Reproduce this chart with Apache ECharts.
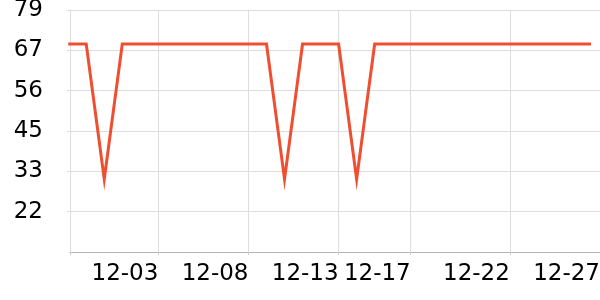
<!DOCTYPE html>
<html><head><meta charset="utf-8">
<script src="https://cdn.jsdelivr.net/npm/echarts@6/dist/echarts.min.js"></script>
<style>html,body{margin:0;padding:0;background:#fff}#c{width:600px;height:300px}</style>
</head><body><div id="c"></div>
<script>
const dates = ['11-28','11-29','11-30','12-01','12-02','12-03','12-04','12-05','12-06','12-07',
  '12-08','12-09','12-10','12-11','12-12','12-13','12-14','12-15','12-16','12-17',
  '12-18','12-19','12-20','12-21','12-22','12-23','12-24','12-25','12-26','12-27'];
const values = [69.5,69.5,31.5,69.5,69.5,69.5,69.5,69.5,69.5,69.5,
  69.5,69.5,31.5,69.5,69.5,69.5,31.5,69.5,69.5,69.5,
  69.5,69.5,69.5,69.5,69.5,69.5,69.5,69.5,69.5,69.5];
const xTickValues = [0.1, 5, 10, 15, 19, 24.5];
const xLabelValues = [5, 10, 15, 19, 24.5, 29.5];
const xLabels = ['12-03','12-08','12-13','12-17','12-22','12-27'];
const yMin = 11, yMax = 79.1;

const chart = echarts.init(document.getElementById('c'), null, {renderer: 'canvas'});
chart.setOption({
  animation: false,
  grid: {left: 70, right: 0, top: 10, bottom: 48, containLabel: false, outerBoundsMode: 'none'},
  xAxis: {
    type: 'value', min: 0.1, max: 29.5,
    axisLine: {show: true, lineStyle: {color: '#b4b4b4', width: 1}},
    axisTick: {show: true, customValues: xTickValues, length: 3, lineStyle: {color: '#cccccc'}},
    axisLabel: {
      customValues: xLabelValues,
      formatter: v => { const i = xLabelValues.findIndex(t => Math.abs(t - v) < 1e-6); return i >= 0 ? xLabels[i] : ''; },
      align: 'right', color: '#000', fontSize: 23, fontFamily: 'DejaVu Sans', margin: 11
    },
    splitLine: {show: true, lineStyle: {color: '#dddddd', width: 1}}
  },
  yAxis: {
    type: 'value', min: yMin, max: yMax, interval: (yMax - yMin) / 6,
    axisLine: {show: true, lineStyle: {color: '#dddddd'}},
    axisTick: {show: true, length: 3, lineStyle: {color: '#dddddd'}},
    axisLabel: {
      showMinLabel: false,
      formatter: v => String(Math.floor(v + 1e-6)),
      color: '#000', fontSize: 23, fontFamily: 'DejaVu Sans', margin: 27
    },
    splitLine: {show: true, lineStyle: {color: '#dddddd', width: 1}}
  },
  series: [{
    type: 'line',
    name: 'value',
    data: values.map((v, i) => [i, v]),
    showSymbol: false,
    lineStyle: {color: '#f04e30', width: 3, join: 'miter', miterLimit: 20}
  }]
});
</script></body></html>
